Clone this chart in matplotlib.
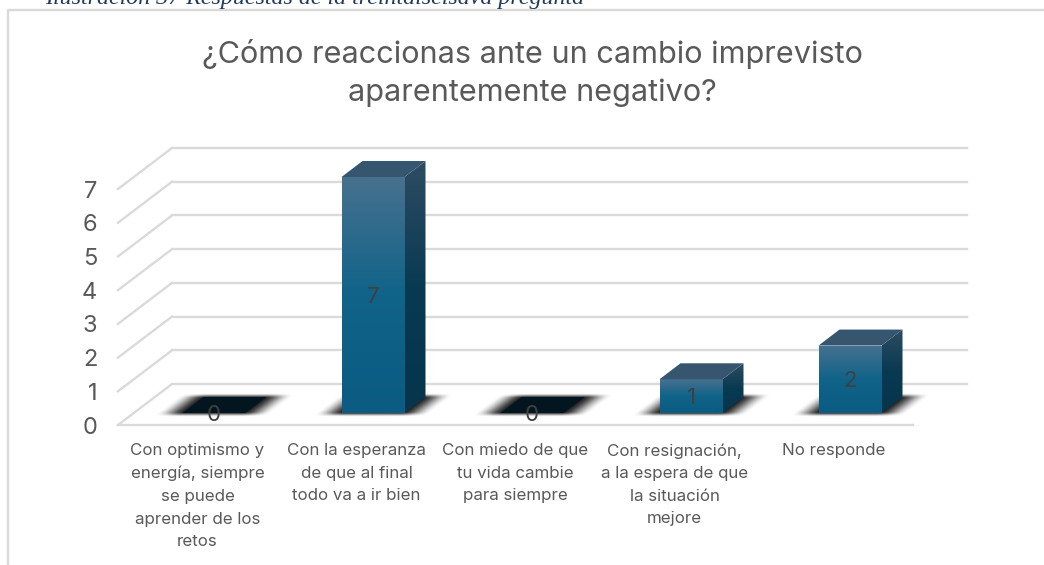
"""Column chart drawn with a fake 3D floor and walls, like the office original."""
import matplotlib
matplotlib.use('Agg')
import matplotlib.pyplot as plt
import numpy as np
from matplotlib.colors import LinearSegmentedColormap
from matplotlib.patches import Polygon

categories = ['Con optimismo y\nenergía, siempre\nse puede\naprender de los\nretos',
              'Con la esperanza\nde que al final\ntodo va a ir bien',
              'Con miedo de que\ntu vida cambie\npara siempre',
              'Con resignación,\na la espera de que\nla situación\nmejore',
              'No responde']
values = [0, 7, 0, 1, 2]
y_ticks = [0, 1, 2, 3, 4, 5, 6, 7]
title = '¿Cómo reaccionas ante un cambio imprevisto\naparentemente negativo?'
caption = 'Ilustración 37 Respuestas de la treintaiseisava pregunta'

W, H = 1044, 565
LEFT, RIGHT, BOTTOM, TOP = 118, 913, 425, 189

plt.rcParams['font.family'] = ['Inter', 'DejaVu Sans']

fig = plt.figure(figsize=(W / 100, H / 100), dpi=100)
ax = fig.add_axes([LEFT / W, 1 - BOTTOM / H, (RIGHT - LEFT) / W, (BOTTOM - TOP) / H])
ax.set_xlim(0, len(values))
ax.set_ylim(0, max(y_ticks))
ax.patch.set_alpha(0)
for spine in ax.spines.values():
    spine.set_visible(False)

# data units per pixel, the depth offsets are all measured in pixels
ux = len(values) / (RIGHT - LEFT)
uy = max(y_ticks) / (BOTTOM - TOP)

# walls and floor
grid_color = '#dadada'
for tick in y_ticks:
    back_x = [54 * ux, len(values) + 54 * ux]
    ax.plot(back_x, [tick + 41 * uy] * 2, color=grid_color, lw=1.7, clip_on=False)
    ax.plot([0, 54 * ux], [tick, tick + 41 * uy], color=grid_color, lw=1.7, clip_on=False)
ax.plot([0, len(values)], [0, 0], color=grid_color, lw=1.7, clip_on=False)


def gradient_face(corners, stops, top, bottom):
    """Fill a polygon with a vertical gradient."""
    cmap = LinearSegmentedColormap.from_list('face', stops)
    xs = [c[0] for c in corners]
    grad = np.linspace(0, 1, 128).reshape(-1, 1)
    im = ax.imshow(grad, cmap=cmap, aspect='auto', origin='upper', zorder=4,
                   extent=[min(xs), max(xs), bottom, top])
    # images fall back to the axes box unless they get a clip box of their own
    im.set_clip_box(fig.bbox)
    im.set_clip_path(Polygon(corners, transform=ax.transData))


def smooth(t):
    t = np.clip(t, 0, 1)
    return t * t * (3 - 2 * t)


def floor_shadow(center, zorder=3):
    """Soft dark patch on the floor below a bar."""
    px, py = np.meshgrid(np.linspace(-100, 100, 300), np.linspace(-4, 22, 60))
    u = px - py * 21 / 16
    fade_x = smooth((u + 58) / 30) * smooth((58 - u) / 30)
    fade_y = smooth((py + 4) / 5) * smooth((20 - py) / 5)
    rgba = np.zeros(px.shape + (4,))
    rgba[..., 3] = 0.9 * fade_x * fade_y
    ax.imshow(rgba, aspect='auto', origin='lower', zorder=zorder, clip_on=False,
              extent=[center - 100 * ux, center + 100 * ux,
                      base_y - 4 * uy, base_y + 22 * uy])


bar_width = 63 * ux
depth_x, depth_y = 21 * ux, 16 * uy
base_x, base_y = 16.5 * ux, 12 * uy

for i, value in enumerate(values):
    x0 = i + 0.5 + base_x - bar_width / 2
    x1 = x0 + bar_width
    y0 = base_y
    y1 = base_y + value
    floor_shadow((x0 + x1) / 2)
    if value == 0:
        ax.add_patch(Polygon([(x0, y0), (x1, y0), (x1 + depth_x, y0 + depth_y),
                              (x0 + depth_x, y0 + depth_y)],
                             facecolor='#03161f', zorder=4, clip_on=False))
    else:
        gradient_face([(x0, y0), (x1, y0), (x1, y1), (x0, y1)],
                      [(0, '#47718f'), (0.5, '#106389'), (1, '#0b5b83')], y1, y0)
        gradient_face([(x1, y0), (x1 + depth_x, y0 + depth_y),
                       (x1 + depth_x, y1 + depth_y), (x1, y1)],
                      ['#2e4c62', '#083a52', '#06354c'], y1 + depth_y, y0)
        ax.add_patch(Polygon([(x0, y1), (x1, y1), (x1 + depth_x, y1 + depth_y),
                              (x0 + depth_x, y1 + depth_y)],
                             facecolor='#365670', zorder=4, clip_on=False))
    ax.text((x0 + x1) / 2, y0 + value / 2 - 2 * uy, str(value), ha='center', va='center',
            fontsize=16, color='#404040', zorder=6)

ax.set_xticks(np.arange(len(values)) + 0.5, categories, fontsize=12.2, color='#595959',
              linespacing=1.63, va='top')
ax.set_yticks(y_ticks, [str(t) for t in y_ticks], fontsize=17, color='#595959')
ax.tick_params(length=0)
ax.tick_params(axis='x', pad=13)
ax.tick_params(axis='y', pad=15)

fig.text(532 / W, 1 - 73 / H, title, ha='center', va='center', fontsize=22.1,
         color='#595959', linespacing=1.38)
fig.text(45 / W, 1 - 4 / H, caption, ha='left', va='baseline', fontsize=17.3,
         family='Liberation Serif', style='italic', color='#1f3a5a')

# chart frame, the top and left edges are all that is left of it in the crop
fig.add_artist(plt.Line2D([8 / W, 8 / W, 1], [0, 1 - 10 / H, 1 - 10 / H],
                          color='#d9d9d9', lw=1.7))

fig.savefig('out.png', dpi=100)
